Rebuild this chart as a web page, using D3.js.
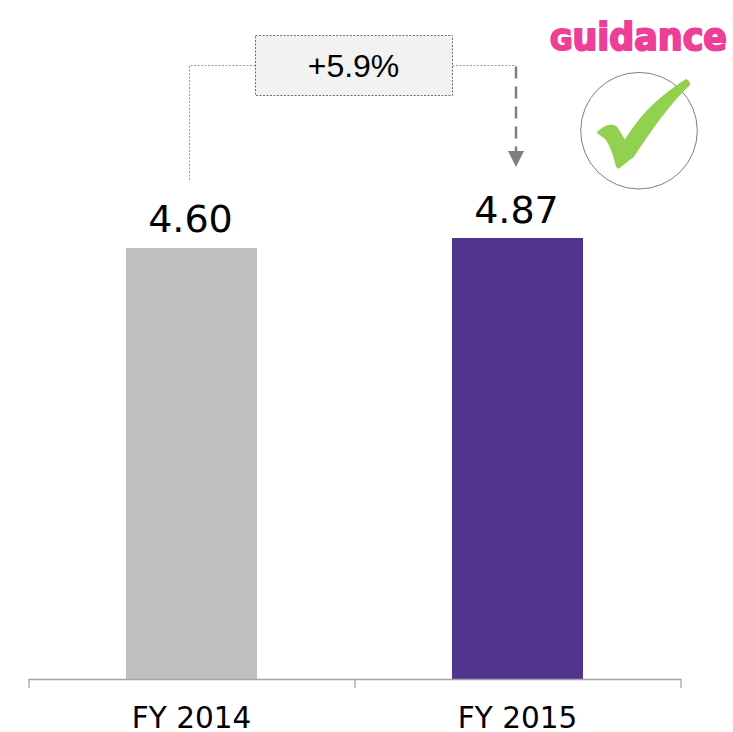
<!DOCTYPE html>
<html>
<head>
<meta charset="utf-8">
<script src="https://cdn.jsdelivr.net/npm/d3@7"></script>
<style>
	html, body { margin: 0; padding: 0; background: #fff; }
	svg { display: block; }
</style>
</head>
<body>
<div id="chart"></div>
<script>
const categories = ['FY 2014', 'FY 2015'];
const values = [4.60, 4.87];
const valueLabels = ['4.60', '4.87'];
const barColors = ['#bfbfbf', '#52348c'];
const changeLabel = '+5.9%';
const badgeInitial = 'G';
const badgeRest = 'uidance';

const width = 733;
const height = 732;
const baseline = 679;

var svg = d3.select('#chart')
	.append('svg')
		.attr('width', width)
		.attr('height', height);

var x = d3.scaleBand()
	.domain(categories)
	.range([28.5, 680.5])
	.paddingInner(0.598)
	.paddingOuter(0.299);

// the source chart's axis is not zero based, the bars differ by much less than their ratio
var y = d3.scaleLinear()
	.domain([-7.04, 4.87])
	.range([baseline, 238]);

// bars
svg.selectAll('rect.bar')
	.data(values)
	.enter()
	.append('rect')
		.attr('class', 'bar')
		.attr('x', (d, i) => x(categories[i]))
		.attr('y', d => y(d))
		.attr('width', x.bandwidth())
		.attr('height', d => baseline - y(d))
		.attr('fill', (d, i) => barColors[i]);

// value labels
svg.selectAll('text.value')
	.data(values)
	.enter()
	.append('text')
		.attr('class', 'value')
		.attr('x', (d, i) => x(categories[i]) + x.bandwidth() / 2 - 1)
		.attr('y', d => y(d) - 15.5)
		.attr('text-anchor', 'middle')
		.style('font-family', '"DejaVu Sans"')
		.style('font-size', '38px')
		.style('fill', '#000')
		.text((d, i) => valueLabels[i]);

// axis, labels sit mid band and the ticks on the band edges
var axis = svg.append('g')
	.attr('transform', 'translate(0,' + baseline + ')')
	.call(d3.axisBottom(x).tickSize(0).tickPadding(28));
axis.select('.domain').attr('stroke', '#a6a6a6').attr('stroke-width', 1.5);
axis.selectAll('text')
	.style('font-family', '"DejaVu Sans"')
	.style('font-size', '29.5px')
	.style('fill', '#000');
var edges = [x.range()[0]].concat(categories.map(c => x(c) + x.bandwidth() / 2 + x.step() / 2));
axis.selectAll('line.edge')
	.data(edges)
	.enter()
	.append('line')
		.attr('class', 'edge')
		.attr('x1', d => d + 0.5)
		.attr('x2', d => d + 0.5)
		.attr('y1', 0)
		.attr('y2', 9)
		.attr('stroke', '#8c8c8c')
		.attr('stroke-width', 1);

// change callout
var leftX = 189.5;
var rightX = 516;
var boxLeft = 255.5;
var boxRight = 452.5;
var boxTop = 35.5;
var boxBottom = 95.5;
var boxMid = 65.5;
var dotted = '2 1.5';

svg.append('path')
	.attr('d', d3.line()([[leftX, 180], [leftX, boxMid], [boxLeft, boxMid]]))
	.attr('fill', 'none')
	.attr('stroke', '#999')
	.attr('stroke-width', 1)
	.attr('stroke-dasharray', dotted);
svg.append('path')
	.attr('d', d3.line()([[boxRight, boxMid], [rightX, boxMid]]))
	.attr('fill', 'none')
	.attr('stroke', '#999')
	.attr('stroke-width', 1)
	.attr('stroke-dasharray', dotted);
svg.append('rect')
	.attr('x', boxLeft)
	.attr('y', boxTop)
	.attr('width', boxRight - boxLeft)
	.attr('height', boxBottom - boxTop)
	.attr('fill', '#f2f2f2')
	.attr('stroke', '#6e6e6e')
	.attr('stroke-width', 1)
	.attr('stroke-dasharray', dotted);
svg.append('text')
	.attr('x', (boxLeft + boxRight) / 2 - 0.5)
	.attr('y', 77)
	.attr('text-anchor', 'middle')
	.style('font-family', '"Liberation Sans"')
	.style('font-size', '32px')
	.style('fill', '#000')
	.text(changeLabel);

// dashed arrow
svg.append('line')
	.attr('x1', rightX)
	.attr('x2', rightX)
	.attr('y1', boxMid + 1)
	.attr('y2', 152)
	.attr('stroke', '#7f7f7f')
	.attr('stroke-width', 2.5)
	.attr('stroke-dasharray', '12 8');
svg.append('path')
	.attr('d', 'M508,151L524,151L516,167Z')
	.attr('fill', '#7f7f7f');

// guidance badge
var badge = svg.append('text')
	.attr('x', 550)
	.attr('y', 49.5)
	.attr('textLength', 177)
	.attr('lengthAdjust', 'spacingAndGlyphs')
	.style('font-family', '"DejaVu Sans"')
	.style('font-weight', 700)
	.style('font-size', '37px')
	.style('fill', '#ee3f98')
	.style('stroke', '#ee3f98')
	.style('stroke-width', 2)
	.style('stroke-linejoin', 'round');
badge.append('tspan').style('font-size', '29px').text(badgeInitial);
badge.append('tspan').text(badgeRest);
svg.append('circle')
	.attr('cx', 639)
	.attr('cy', 130.7)
	.attr('r', 58.3)
	.attr('fill', 'none')
	.attr('stroke', '#7f7f7f')
	.attr('stroke-width', 1);
svg.append('path')
	.attr('transform', 'translate(530,10) scale(0.3333)')
	.attr('d', 'M200,368C215,350 240,338 258,348C270,358 276,378 285,388C305,358 330,320 362,290C395,258 435,228 468,207C474,208 480,216 481,224C450,252 420,288 390,328C362,366 335,405 312,440L266,476C260,476 258,470 256,462C248,430 235,395 222,385Z')
	.attr('fill', '#92d050');
</script>
</body>
</html>
